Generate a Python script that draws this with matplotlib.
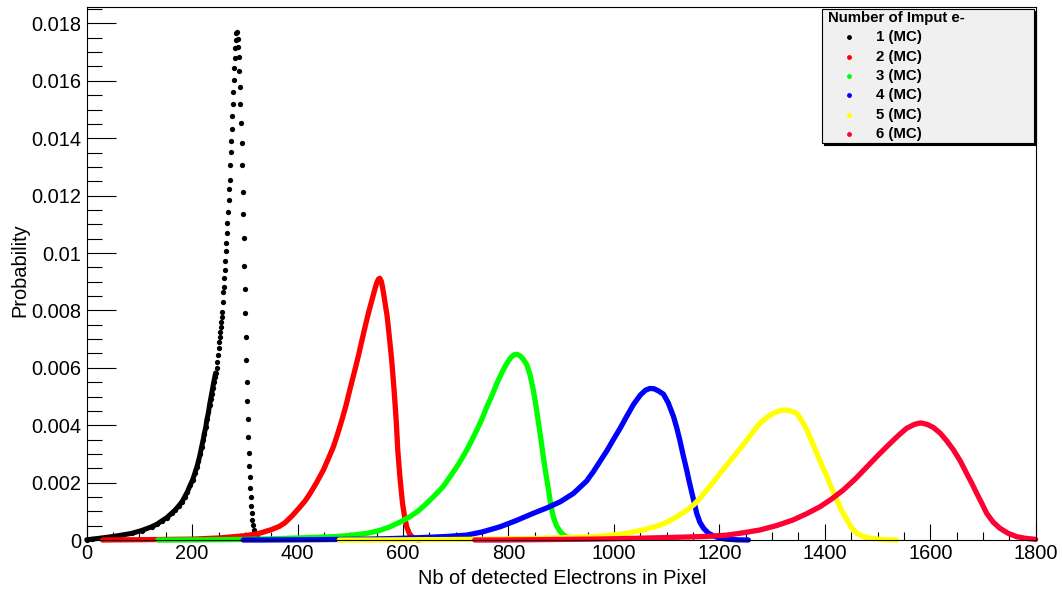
import numpy as np
import matplotlib
matplotlib.use('Agg')
import matplotlib.pyplot as plt
from matplotlib.patches import Rectangle
from matplotlib.lines import Line2D
from matplotlib.ticker import MultipleLocator, FuncFormatter

plt.rcParams['font.family'] = ['Liberation Sans', 'DejaVu Sans']

# probabilities are given in units of 1e-3
# 1 e- : dense left flank, then single bins around the peak
x1 = [0, 10, 28, 47, 66, 85, 104, 123, 133, 142, 152, 161, 168, 175, 181, 186, 191, 196, 201, 205,
      209, 212, 215, 218, 221, 223, 226, 228, 231, 233, 235, 237, 239, 241, 243, 244.5,
      247, 248, 249, 250, 251, 252, 253, 254, 255, 256, 257, 258, 259, 260, 261, 262, 263, 264, 265,
      266, 267, 268, 269, 270, 271, 272, 273, 274, 275, 276, 277, 278, 279, 280, 281, 282, 283, 284,
      285.5, 286.5,
      287.6, 288.9, 289.5, 290.8, 291.4, 292.7, 293.9, 294.6, 295.8, 296.5, 297.7, 298.4, 299.6, 300.3, 301.5, 302.8,
      303.4, 304.7, 305.3, 306.6, 307.2, 308.5, 309.1, 309.8, 311.0, 311.6, 312.9, 314.2, 316.1, 318.0, 319.9, 322.4]
p1 = [0.01, 0.03, 0.07, 0.115, 0.17, 0.23, 0.33, 0.46, 0.55, 0.66, 0.78, 0.93, 1.05, 1.2, 1.34, 1.51, 1.68, 1.9, 2.1, 2.32,
      2.55, 2.75, 2.98, 3.25, 3.5, 3.7, 3.95, 4.2, 4.45, 4.7, 4.9, 5.1, 5.3, 5.5, 5.68, 5.82,
      5.98, 6.21, 6.45, 6.68, 6.91, 7.08, 7.26, 7.43, 7.61, 7.78, 7.95, 8.30, 8.63, 8.83, 9.13, 9.42, 9.72, 10.07, 10.36,
      10.69, 11.05, 11.44, 11.86, 12.23, 12.55, 13.07, 13.51, 13.91, 14.32, 14.77, 15.18, 15.62, 16.03, 16.43, 16.78, 17.13, 17.42, 17.65,
      17.7, 17.45,
      17.19, 16.84, 16.34, 15.80, 15.18, 14.54, 13.82, 13.05, 12.14, 11.37, 10.51, 9.56, 8.75, 7.92, 7.08, 6.27,
      5.52, 4.85, 4.22, 3.60, 3.04, 2.59, 2.18, 1.80, 1.49, 1.18, 0.93, 0.70, 0.52, 0.35, 0.23, 0.115]

x2 = [30, 54, 100, 150, 200, 250, 300, 325, 350, 365, 376, 390, 405, 415, 424, 436, 449, 458, 468, 476,
      484, 492, 499, 507, 515, 522, 528, 535, 541, 546, 550, 553, 556, 559, 561, 563, 566, 570, 574, 578.5,
      583, 587, 590, 594, 599, 603, 607, 612, 617, 622, 630]
p2 = [0, 0.005, 0.01, 0.02, 0.03, 0.07, 0.15, 0.22, 0.36, 0.47, 0.6, 0.85, 1.16, 1.38, 1.63, 2.0, 2.44, 2.82, 3.25, 3.7,
      4.18, 4.7, 5.23, 5.8, 6.39, 6.95, 7.43, 7.95, 8.36, 8.7, 8.95, 9.08, 9.12, 9.0, 8.82, 8.60, 8.25, 7.78, 7.08, 6.27,
      5.23, 4.18, 3.14, 2.21, 1.28, 0.8, 0.46, 0.22, 0.115, 0.04, 0]

x3 = [135, 170, 200, 250, 300, 350, 400, 468, 500, 531, 555, 575, 595, 613, 630, 645, 660, 676, 689, 702,
      712, 721, 731, 740, 750, 759, 769, 778, 788, 797, 804, 810, 816, 822, 828, 835, 841, 847, 852, 857,
      862, 866, 871, 876, 880, 885, 891, 898, 904, 910, 925]
p3 = [0, 0, 0.005, 0.01, 0.02, 0.04, 0.07, 0.115, 0.16, 0.23, 0.33, 0.46, 0.63, 0.81, 1.03, 1.28, 1.55, 1.86, 2.2, 2.55,
      2.85, 3.14, 3.5, 3.83, 4.23, 4.64, 5.05, 5.46, 5.85, 6.16, 6.35, 6.45, 6.47, 6.42, 6.3, 6.1, 5.75, 5.23, 4.7, 4.07,
      3.45, 2.90, 2.3, 1.74, 1.25, 0.81, 0.5, 0.29, 0.18, 0.115, 0.02]

x4 = [297, 330, 380, 430, 480, 530, 580, 630, 680, 721, 750, 784, 815, 847, 873, 898, 923, 948, 961, 974,
      987, 999, 1012, 1024, 1037, 1050, 1060, 1068, 1076, 1084, 1094, 1103, 1113, 1119, 1125, 1131, 1138, 1143, 1148, 1153,
      1157, 1163, 1170, 1179, 1189, 1200, 1214, 1235, 1255]
p4 = [0, 0, 0.005, 0.01, 0.02, 0.03, 0.05, 0.08, 0.12, 0.17, 0.28, 0.46, 0.68, 0.93, 1.12, 1.33, 1.62, 2.05, 2.38, 2.75,
      3.12, 3.5, 3.9, 4.3, 4.72, 5.05, 5.22, 5.28, 5.27, 5.2, 5.08, 4.78, 4.30, 3.92, 3.48, 2.98, 2.44, 2.02, 1.63, 1.25,
      0.93, 0.62, 0.41, 0.24, 0.14, 0.07, 0.03, 0.005, 0]

x5 = [479, 510, 540, 580, 620, 680, 740, 800, 860, 910, 961, 990, 1024, 1055, 1088, 1104, 1119, 1135, 1151, 1164,
      1176, 1189, 1201, 1214, 1227, 1240, 1252, 1265, 1277, 1290, 1302, 1313, 1324, 1335, 1347, 1356, 1366, 1375, 1385, 1394,
      1404, 1413, 1423, 1432, 1442, 1451, 1461, 1473, 1486, 1510, 1536]
p5 = [0, 0, 0, 0.005, 0.01, 0.015, 0.025, 0.04, 0.06, 0.085, 0.115, 0.16, 0.23, 0.35, 0.52, 0.65, 0.81, 1.0, 1.22, 1.47,
      1.74, 2.03, 2.32, 2.61, 2.90, 3.2, 3.48, 3.8, 4.07, 4.27, 4.41, 4.5, 4.53, 4.5, 4.41, 4.17, 3.83, 3.45, 3.02, 2.62,
      2.21, 1.8, 1.39, 1.02, 0.70, 0.42, 0.23, 0.12, 0.06, 0.01, 0]

x6 = [736, 765, 784, 850, 900, 960, 1020, 1090, 1150, 1182, 1214, 1245, 1277, 1308, 1340, 1366, 1391, 1413, 1435, 1458,
      1480, 1502, 1524, 1540, 1555, 1570, 1582, 1594, 1606, 1619, 1631, 1644, 1657, 1669, 1679, 1688, 1698, 1707, 1719, 1732,
      1748, 1764, 1780, 1796, 1800]
p6 = [0, 0, 0, 0.01, 0.02, 0.03, 0.05, 0.08, 0.11, 0.13, 0.17, 0.25, 0.35, 0.5, 0.70, 0.92, 1.16, 1.43, 1.74, 2.13,
      2.55, 2.97, 3.37, 3.65, 3.89, 4.03, 4.08, 4.03, 3.92, 3.72, 3.46, 3.14, 2.75, 2.32, 1.97, 1.63, 1.27, 0.93, 0.63, 0.41,
      0.23, 0.115, 0.06, 0.03, 0.02]

labels = ['1 (MC)', '2 (MC)', '3 (MC)', '4 (MC)', '5 (MC)', '6 (MC)']
colors = ['#000000', '#ff0000', '#00ff00', '#0000ff', '#ffff00', '#ff0033']
legend_title = 'Number of Imput e-'

W, H = 1062, 592
fig = plt.figure(figsize=(W / 100, H / 100), dpi=100)
ax = fig.add_axes([86.7 / W, 1 - 540 / H, 949 / W, 533.3 / H])

# black: continuous where the bins pile up, single dots near the peak
bx = np.array(x1)
bp = np.array(p1) * 1e-3
dense = bx < 246
ax.plot(bx[dense], bp[dense], color=colors[0], lw=3.6, solid_capstyle='round', clip_on=False)
ax.plot(bx, bp, 'o', color=colors[0], ms=3.8, mew=0, clip_on=False)

for x, p, c in zip([x2, x3, x4, x5, x6], [p2, p3, p4, p5, p6], colors[1:]):
    ax.plot(x, np.array(p) * 1e-3, color=c, lw=3.8, solid_capstyle='round',
            solid_joinstyle='round', clip_on=False)

ax.set_xlim(0, 1800)
ax.set_ylim(0, 0.018582)
ax.xaxis.set_major_locator(MultipleLocator(200))
ax.xaxis.set_minor_locator(MultipleLocator(50))
ax.yaxis.set_major_locator(MultipleLocator(0.002))
ax.yaxis.set_minor_locator(MultipleLocator(0.0005))
ax.yaxis.set_major_formatter(FuncFormatter(lambda v, pos: f"{round(v, 4):g}"))
ax.tick_params(which='both', direction='in', top=False, right=False, labelsize=14.4, width=0.8)
ax.tick_params(axis='y', which='major', length=20.9, pad=4)
ax.tick_params(axis='y', which='minor', length=10.8)
ax.tick_params(axis='x', which='major', length=11.5, pad=3)
ax.tick_params(axis='x', which='minor', length=5.8)
for s in ax.spines.values():
    s.set_linewidth(0.8)

fig.text(562 / W, 1 - 579 / H, 'Nb of detected Electrons in Pixel', ha='center', va='center', fontsize=14.4)
fig.text(20 / W, 1 - 270 / H, 'Probability', rotation=90, ha='center', va='center', fontsize=14.4)

# legend box (ROOT style with shadow)
bx0, by0, bx1, by1 = 822.3, 9.3, 1034, 143.3
fig.add_artist(Rectangle(((bx0 + 1.5) / W, 1 - (by1 + 1.5) / H), (bx1 - bx0) / W, (by1 - by0) / H,
                         transform=fig.transFigure, facecolor='black', edgecolor='black', lw=0.8, zorder=4))
fig.add_artist(Rectangle((bx0 / W, 1 - by1 / H), (bx1 - bx0) / W, (by1 - by0) / H,
                         transform=fig.transFigure, facecolor='#f0f0f0', edgecolor='black', lw=0.8, zorder=5))
fig.text(828 / W, 1 - 18 / H, legend_title, fontsize=10.8, weight='bold', ha='left', va='center', zorder=6)
for i, (lab, c) in enumerate(zip(labels, colors)):
    yy = 1 - (37.3 + i * 19.35) / H
    fig.add_artist(Line2D([849 / W], [yy], marker='o', ms=3.5, mew=0, color=c, ls='none',
                          transform=fig.transFigure, zorder=6))
    fig.text(876 / W, yy, lab, fontsize=10.8, weight='bold', ha='left', va='center', zorder=6)

fig.savefig('out.png', dpi=100)
